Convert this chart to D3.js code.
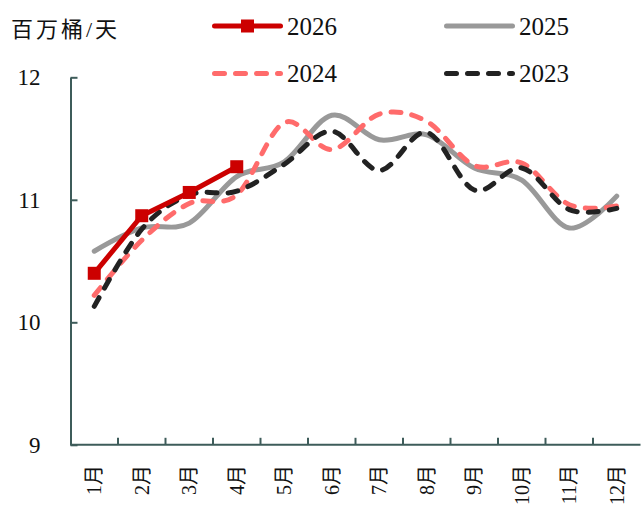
<!DOCTYPE html>
<html>
<head>
<meta charset="utf-8">
<script src="https://cdn.jsdelivr.net/npm/d3@7"></script>
<style>
  html, body { margin: 0; padding: 0; background: #fff; }
  svg { display: block; }
  text { font-family: "Liberation Serif", "Noto Sans CJK SC", serif; fill: #111; }
</style>
</head>
<body>
<svg id="chart" width="641" height="507"></svg>
<script>
// Monthly series, million barrels per day
const months = ["1月", "2月", "3月", "4月", "5月", "6月", "7月", "8月", "9月", "10月", "11月", "12月"];
const s2026 = [10.40, 10.87, 11.06, 11.27];
const s2025 = [10.58, 10.77, 10.81, 11.19, 11.31, 11.69, 11.49, 11.53, 11.26, 11.16, 10.77, 11.03];
const s2024 = [10.22, 10.67, 10.97, 11.04, 11.63, 11.41, 11.70, 11.64, 11.28, 11.30, 10.96, 10.95];
const s2023 = [10.13, 10.76, 11.04, 11.07, 11.29, 11.56, 11.24, 11.55, 11.08, 11.26, 10.92, 10.93];
const yTicks = [9, 10, 11, 12];
const unitLabel = "百万桶/天";

const svg = d3.select("#chart");
const axisColor = "#3e5c5a";

const x = d3.scaleBand().domain(months).range([70.5, 640.5]).padding(0);
const y = d3.scaleLinear().domain([9, 12]).range([444.8, 77.3]);
const cx = m => x(m) + x.bandwidth() / 2;

// Y axis with inward ticks
const yAxis = svg.append("g")
  .attr("transform", `translate(${x.range()[0]},0)`)
  .call(d3.axisLeft(y).tickValues(yTicks).tickSize(-7).tickSizeOuter(0).tickPadding(30).tickFormat(d3.format("d")));
yAxis.select(".domain").attr("stroke", axisColor).attr("stroke-width", 2);
yAxis.selectAll(".tick line").attr("stroke", axisColor).attr("stroke-width", 2);
yAxis.selectAll(".tick text").attr("font-size", 23).attr("fill", "#111")
  .attr("font-family", "Liberation Serif, serif");

// X axis: baseline and boundary ticks between months
const xAxis = svg.append("g").attr("transform", `translate(0,${y(9)})`);
xAxis.append("line")
  .attr("x1", x.range()[0]).attr("x2", x.range()[1])
  .attr("stroke", axisColor).attr("stroke-width", 2);
xAxis.selectAll("line.tk").data(months.slice(1)).join("line")
  .attr("class", "tk")
  .attr("x1", d => x(d)).attr("x2", d => x(d))
  .attr("y1", 0).attr("y2", -7)
  .attr("stroke", axisColor).attr("stroke-width", 2);

// Rotated month labels
svg.append("g").selectAll("text").data(months).join("text")
  .attr("transform", d => `translate(${cx(d)},465) rotate(-90)`)
  .attr("text-anchor", "end")
  .attr("dy", "0.35em")
  .attr("font-size", 20)
  .text(d => d);

// Unit label
svg.append("text")
  .attr("x", 11).attr("y", 37)
  .attr("font-size", 22)
  .attr("letter-spacing", 3)
  .attr("font-family", "Noto Sans CJK SC, sans-serif")
  .text(unitLabel);

const smooth = d3.line().x((d, i) => cx(months[i])).y(d => y(d)).curve(d3.curveCatmullRom.alpha(0));
const straight = d3.line().x((d, i) => cx(months[i])).y(d => y(d));

const series = [
  { name: "2025", data: s2025, color: "#999999", dash: null, gen: smooth },
  { name: "2024", data: s2024, color: "#ff6b6b", dash: "10,11", gen: smooth },
  { name: "2023", data: s2023, color: "#222222", dash: "10,11", gen: smooth },
  { name: "2026", data: s2026, color: "#cc0000", dash: null, gen: straight }
];

const plot = svg.append("g");
series.forEach(s => {
  plot.append("path")
    .attr("d", s.gen(s.data))
    .attr("fill", "none")
    .attr("stroke", s.color)
    .attr("stroke-width", 5)
    .attr("stroke-linecap", "round")
    .attr("stroke-linejoin", "round")
    .attr("stroke-dasharray", s.dash);
});

// Square markers on 2026
plot.selectAll("rect.mk").data(s2026).join("rect")
  .attr("class", "mk")
  .attr("x", (d, i) => cx(months[i]) - 6.5)
  .attr("y", d => y(d) - 6.5)
  .attr("width", 13).attr("height", 13)
  .attr("fill", "#cc0000");

// Legend
const legendItems = [
  { name: "2026", color: "#cc0000", dash: null, marker: true, lx: 212, ly: 26 },
  { name: "2025", color: "#999999", dash: null, marker: false, lx: 444, ly: 26 },
  { name: "2024", color: "#ff6b6b", dash: "10,11", marker: false, lx: 212, ly: 73.5 },
  { name: "2023", color: "#222222", dash: "10,11", marker: false, lx: 444, ly: 73.5 }
];
const lg = svg.append("g");
legendItems.forEach(it => {
  lg.append("line")
    .attr("x1", it.lx + 2.5).attr("x2", it.lx + 68.5)
    .attr("y1", it.ly).attr("y2", it.ly)
    .attr("stroke", it.color).attr("stroke-width", 5)
    .attr("stroke-linecap", "round")
    .attr("stroke-dasharray", it.dash);
  if (it.marker) {
    lg.append("rect")
      .attr("x", it.lx + 35.5 - 6.5).attr("y", it.ly - 6.5)
      .attr("width", 13).attr("height", 13)
      .attr("fill", it.color);
  }
  lg.append("text")
    .attr("x", it.lx + 75).attr("y", it.ly)
    .attr("dy", "0.35em")
    .attr("font-size", 25)
    .attr("font-family", "Liberation Serif, serif")
    .text(it.name);
});
</script>
</body>
</html>
